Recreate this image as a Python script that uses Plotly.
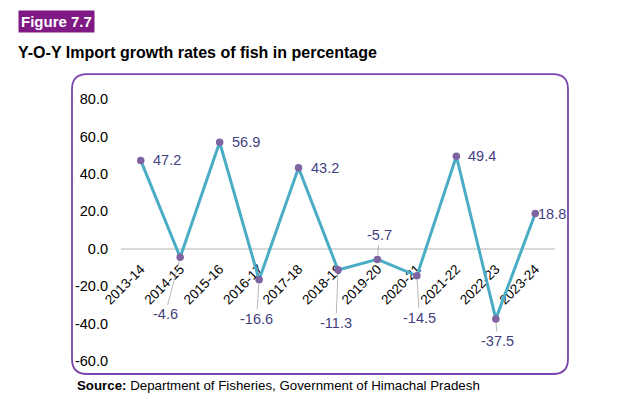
import plotly.graph_objects as go

years = ["2013-14", "2014-15", "2015-16", "2016-17", "2017-18", "2018-19",
         "2019-20", "2020-21", "2021-22", "2022-23", "2023-24"]
growth = [47.2, -4.6, 56.9, -16.6, 43.2, -11.3, -5.7, -14.5, 49.4, -37.5, 18.8]
y_ticks = [80, 60, 40, 20, 0, -20, -40, -60]

# label placement styles (pixel offsets of label from its point); None = label to the right
label_offsets = [None, (-15, 57), None, (-2.5, 39), None, (-2, 53),
                 (2, -24), (2.5, 42), None, (1.5, 22), None]
right_shift = [10, 0, 10, 0, 10, 0, 0, 0, 10, 0, 1]

# page body has an 8px margin; work in reference pixel coords and subtract it
OFF = 8
W, H = 634 - OFF, 399 - OFF
L, R, T, B = 121 - OFF, 555 - OFF, 99 - OFF, 361.5 - OFF
FONT = "Liberation Sans, Arial, sans-serif"
LABEL_COLOR = "#433f80"

fig = go.Figure()
fig.add_trace(go.Scatter(
    x=years, y=growth, mode="lines+markers",
    line=dict(color="#4bacc6", width=3),
    marker=dict(color="#8064a2", size=7.5),
    hoverinfo="skip", showlegend=False, cliponaxis=False,
))

annotations = []
for yr, v, off, sh in zip(years, growth, label_offsets, right_shift):
    txt = f"{v:.1f}"
    if off is None:
        annotations.append(dict(x=yr, y=v, xref="x", yref="y", text=txt, showarrow=False,
                                xanchor="left", yanchor="middle", xshift=sh,
                                font=dict(family=FONT, size=14.5, color=LABEL_COLOR)))
    else:
        annotations.append(dict(x=yr, y=v, xref="x", yref="y", text=txt, showarrow=True,
                                arrowhead=0, arrowwidth=0.8, arrowcolor="#a6a6a6",
                                standoff=4, ax=off[0], ay=off[1],
                                font=dict(family=FONT, size=14.5, color=LABEL_COLOR)))

def px_x(p):
    return (p - OFF - L) / (R - L)

def px_y(p):
    return (B - (p - OFF)) / (B - T)

# header texts
annotations.append(dict(x=px_x(18), y=px_y(21.5), xref="paper", yref="paper",
                        text="<b>Figure 7.7</b>", showarrow=False, xanchor="left", yanchor="middle",
                        bgcolor="#7f1a85", borderpad=2,
                        font=dict(family=FONT, size=15, color="white")))
annotations.append(dict(x=px_x(16), y=px_y(52), xref="paper", yref="paper",
                        text="<b>Y-O-Y Import growth rates of fish in percentage</b>", showarrow=False,
                        xanchor="left", yanchor="middle",
                        font=dict(family=FONT, size=16, color="black")))
annotations.append(dict(x=px_x(75), y=px_y(386), xref="paper", yref="paper",
                        text="<b>Source:</b> Department of Fisheries, Government of Himachal Pradesh",
                        showarrow=False, xanchor="left", yanchor="middle",
                        font=dict(family=FONT, size=13.3, color="black")))

# rounded chart border
r = 15
def pt(px, py):
    return f"{px_x(px)},{px_y(py)}"
path = (f"M {pt(72+r, 74)} L {pt(568-r, 74)} Q {pt(568, 74)} {pt(568, 74+r)} "
        f"L {pt(568, 374.5-r)} Q {pt(568, 374.5)} {pt(568-r, 374.5)} "
        f"L {pt(72+r, 374.5)} Q {pt(72, 374.5)} {pt(72, 374.5-r)} "
        f"L {pt(72, 74+r)} Q {pt(72, 74)} {pt(72+r, 74)} Z")

fig.update_layout(
    width=W, height=H,
    margin=dict(l=L, r=W - R, t=T, b=H - B, pad=0),
    paper_bgcolor="white", plot_bgcolor="white",
    font=dict(family=FONT, size=14.5, color="black"),
    xaxis=dict(type="category", anchor="free", position=60 / 140,
               tickangle=-45, showgrid=False, showline=False, ticks="",
               ticklabelstandoff=9, layer="below traces",
               tickfont=dict(family=FONT, size=13.5, color="black"),
               range=[-0.5, len(years) - 0.5], fixedrange=True),
    yaxis=dict(range=[-60, 80], tickvals=y_ticks, ticktext=[f"{t:.1f}" for t in y_ticks],
               showgrid=False, zeroline=True, zerolinecolor="#d9d9d9", zerolinewidth=1.5,
               showline=False, ticks="", ticklabelstandoff=12,
               tickfont=dict(family=FONT, size=14.5, color="black"), fixedrange=True),
    annotations=annotations,
    shapes=[dict(type="path", path=path, xref="paper", yref="paper",
                 line=dict(color="#7a45b0", width=1.8), layer="below")],
)

fig.write_html("out.html")
